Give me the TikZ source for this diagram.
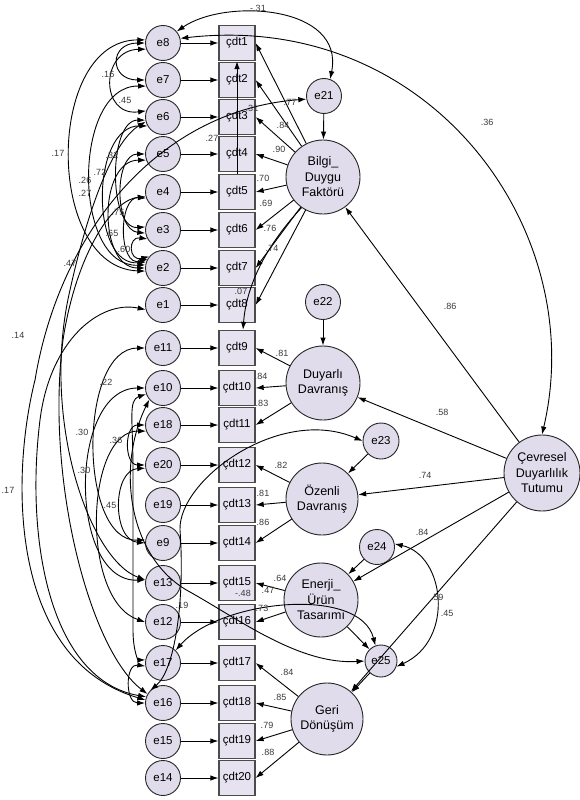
\documentclass[tikz,border=0pt]{standalone}
\usepackage{fontspec}
\setmainfont{Liberation Sans}
\usetikzlibrary{arrows.meta,calc}
\definecolor{efill}{HTML}{E0DCEB}
\definecolor{rfill}{HTML}{E7E2F0}
\definecolor{lblc}{HTML}{3A3A3A}
\begin{document}
\begin{tikzpicture}[x=1pt,y=-1pt,
  err/.style={circle,draw=black!85,fill=efill,minimum size=35pt,inner sep=0pt,line width=0.9pt,font=\fontsize{11.5}{12}\selectfont},
  obs/.style={rectangle,draw=black!70,fill=rfill,minimum width=36pt,minimum height=35pt,inner sep=0pt,line width=1.3pt,font=\fontsize{11.5}{12}\selectfont},
  lat/.style={circle,draw=black!85,fill=efill,minimum size=74pt,inner sep=0pt,line width=0.9pt,align=center,font=\fontsize{12.5}{15.5}\selectfont},
  arr/.style={-{Latex[length=8pt,width=5.5pt]},line width=0.9pt},
  cov/.style={{Latex[length=8pt,width=5.5pt]}-{Latex[length=8pt,width=5.5pt]},line width=0.9pt},
  lbl/.style={font=\fontsize{9}{9}\selectfont,inner sep=0pt,text=lblc}
]
\fill[white] (0,0) rectangle (579,800);
\useasboundingbox (0,0) rectangle (579,800);

% indicators and their errors
\foreach \en/\ci/\yy in {8/1/43,7/2/80,6/3/117,5/4/154,4/5/192,3/6/230,2/7/268,1/8/305,11/9/348,10/10/388,18/11/425,20/12/465,19/13/505,9/14/543,13/15/583,12/16/622,17/17/663,16/18/703,15/19/741,14/20/778}{
  \node[err] (e\en) at (163,\yy) {e\en};
  \node[obs] (c\ci) at (237,\yy) {çdt\ci};
}

% latent variables
\node[err] (e21) at (324,96) {e21};
\node[lat] (bil) at (323,177) {Bilgi\_\\Duygu\\Faktörü};
\node[err] (e22) at (323,302) {e22};
\node[lat] (duy) at (323,383) {Duyarlı\\Davranış};
\node[err,minimum size=36pt] (e23) at (381,441) {e23};
\node[lat,minimum size=72pt] (oze) at (322,499) {Özenli\\Davranış};
\node[err] (e24) at (377,547) {e24};
\node[lat] (ene) at (321,600) {Enerji\_\\Ürün\\Tasarımı};
\node[err,minimum size=32pt] (e25) at (381,661) {e25};
\node[lat,minimum size=72pt] (ger) at (327,719) {Geri\\Dönüşüm};
\node[lat,minimum size=76pt] (cev) at (542,473) {Çevresel\\Duyarlılık\\Tutumu};

% error -> indicator
\foreach \en/\ci in {8/1,7/2,6/3,5/4,4/5,3/6,2/7,1/8,11/9,10/10,18/11,20/12,19/13,9/14,13/15,12/16,17/17,16/18,15/19,14/20}{
  \draw[arr] (e\en) -- (c\ci);
}

% loadings
\foreach \ci in {1,...,8}{\draw[arr] (bil) -- (c\ci.east);}
\foreach \ci in {9,10,11}{\draw[arr] (duy) -- (c\ci.east);}
\foreach \ci in {12,13,14}{\draw[arr] (oze) -- (c\ci.east);}
\foreach \ci in {15,16}{\draw[arr] (ene) -- (c\ci.east);}
\foreach \ci in {17,18,19,20}{\draw[arr] (ger) -- (c\ci.east);}

% disturbances and structural paths
\draw[arr] (e21) -- (bil);
\draw[arr] (e22) -- (duy);
\draw[arr] (e23) -- (oze);
\draw[arr] (e24) -- (ene);
\draw[arr] (e25) -- (ger);
\draw[arr] (cev) -- (bil);
\draw[arr] (cev) -- (duy);
\draw[arr] (cev) -- (oze);
\draw[arr] (cev) -- (ene);
\draw[arr] (cev) -- (ger);
\draw[arr] (ene) -- (e25);
\draw[arr] (bil.235) .. controls (262,250) and (246,290) .. ($(c9.north)+(6,0)$);
\draw[arr] (c5.north) -- (c1.south);

% top arcs
\draw[cov] (e8.40) .. controls (225,-2) and (345,5) .. (e21.70);
\draw[cov] (e8.15) .. controls (430,10) and (590,230) .. (cev.north);

% left short arcs (upper group)
\draw[cov] (e8.west) .. controls (109,43) and (109,80) .. (e7.west);
\draw[cov] (e8.200) .. controls (100,50) and (100,117) .. (e6.160);
\draw[cov] (e8.170) .. controls (45,40) and (45,268) .. (e2.190);
\draw[cov] (e6.190) .. controls (108,120) and (108,230) .. (e3.170);
\draw[cov] (e7.200) .. controls (72,85) and (72,268) .. (e2.170);
\draw[cov] (e6.210) .. controls (90,125) and (90,268) .. (e2.160);
\draw[cov] (e5.200) .. controls (98,160) and (98,268) .. (e2.180);
\draw[cov] (e4.200) .. controls (118,196) and (118,268) .. (e2.150);
\draw[cov] (e5.180) .. controls (114,154) and (114,230) .. (e3.190);
\draw[cov] (e3.210) .. controls (128,236) and (128,262) .. (e2.140);

% long left arcs
\draw[cov] (e16.170) .. controls (10,660) and (10,480) .. (35,380) .. controls (60,230) and (160,110) .. (e21.190);
\draw[cov] (e16.160) .. controls (50,680) and (25,540) .. (40,420) .. controls (50,340) and (100,300) .. (e1.195);
\draw[cov] (e16.150) .. controls (90,650) and (45,480) .. (63,340) .. controls (75,260) and (110,200) .. (e4.195);
\draw[cov] (e13.170) .. controls (90,560) and (40,420) .. (70,290) .. controls (90,200) and (115,140) .. (e6.195);

% middle group
\draw[cov] (e11.west) .. controls (78,348) and (78,543) .. (e9.170);
\draw[cov] (e10.west) .. controls (68,388) and (68,583) .. (e13.170);
\draw[cov] (e18.west) .. controls (124,425) and (124,465) .. (e20.west);
\draw[cov] (e10.200) .. controls (128,400) and (133,420) .. (133,470) -- (133,630) .. controls (133,650) and (138,660) .. (e17.170);
\draw[cov] (e20.190) .. controls (112,470) and (112,540) .. (e9.180);
\draw[cov] (e18.200) .. controls (85,430) and (80,600) .. (e12.west);
\draw[cov] (e17.190) .. controls (125,663) and (125,703) .. (e16.west);

% right curves
\draw[cov] (e17.45) .. controls (220,600) and (360,585) .. (e25.110);
\draw[cov] (e10.220) .. controls (115,470) and (130,560) .. (190,592) .. controls (240,620) and (300,665) .. (e25.west);
\draw[cov] (e16.135) .. controls (175,670) and (185,600) .. (180,530) .. controls (178,480) and (280,405) .. (e23.west);
\draw[cov] (e24.10) .. controls (445,555) and (455,640) .. (e25.-20);

% coefficient labels
\foreach \t/\x/\y [count=\i] in {
  -.31/258/8, .36/487/122,
  .77/290/102, .84/283/125, .90/279/149, .70/263/178, .69/266/203, .76/270/228, .74/272/248, .07/241/291, .27/212/138, .31/252/108,
  .16/108/74, .45/125/100, .17/58/153, .32/112/155, .26/85/180, .72/100/172, .27/85/193, .75/118/212, .65/112/233, .60/124/249,
  .14/18/335, .17/8/490, .47/70/263,
  .22/106/382, .30/82/432, .36/116/440, .30/84/470, .45/110/505, .19/182/605,
  .81/282/353, .84/261/376, .83/262/403, .82/281/465, .81/263/493, .86/263/522,
  .64/280/578, -.48/243/593, .47/268/590, .73/262/608,
  .84/287/672, .85/280/697, .79/267/725, .88/268/752,
  .86/450/306, .58/442/412, .74/425/475, .84/422/532, .45/447/613, .59/437/597}{
  \node[lbl] (lab\i) at (\x,\y) {\t};
}
\end{tikzpicture}
\end{document}
